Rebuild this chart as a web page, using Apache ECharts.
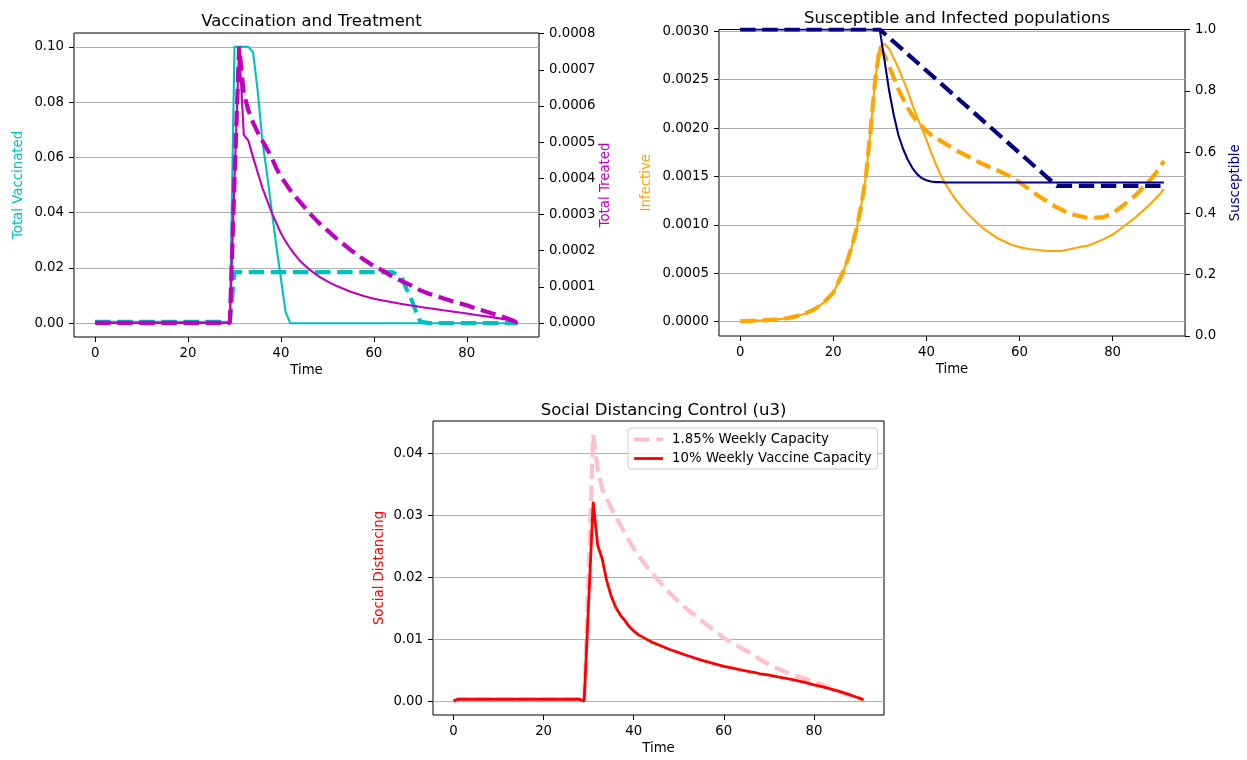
<!DOCTYPE html>
<html>
<head>
<meta charset="utf-8">
<title>Vaccination, treatment and social distancing</title>
<script src="https://cdn.jsdelivr.net/npm/echarts@6/dist/echarts.min.js"></script>
<style>
  html, body { margin: 0; padding: 0; background: #fff; }
  #ec { width: 1247px; height: 760px; }
</style>
</head>
<body>
<div id="ec"></div>
<script>
const days = [
  0, 1, 2, 5, 8, 10, 12, 14, 16, 18,
  20, 21, 22, 23, 24, 25, 26, 27, 28, 29,
  30, 31, 32, 33, 34, 35, 36, 37, 38, 39,
  40, 41, 42, 43, 44, 46, 48, 50, 52, 55,
  58, 60, 62, 64, 66, 67, 68, 69, 70, 72,
  75, 78, 80, 82, 85, 88, 90, 91
];

// top left: vaccination (left axis) and treatment (right axis)
const vacc10 = [
  0.0005, 0.0005, 0.0005, 0.0005, 0.0005, 0.0005, 0.0005, 0.0005, 0.0005, 0.0005,
  0.0005, 0.0005, 0.0005, 0.0005, 0.0005, 0.0005, 0.0005, 0.0005, 0.0005, 0.0005,
  0.1, 0.1, 0.1, 0.1, 0.098, 0.084, 0.066, 0.054, 0.041, 0.028,
  0.016, 0.004, 0, 0, 0, 0, 0, 0, 0, 0,
  0, 0, 0, 0, 0, 0, 0, 0, 0, 0,
  0, 0, 0, 0, 0, 0, 0, 0
];
const vacc185 = [
  0.0005, 0.0005, 0.0005, 0.0005, 0.0005, 0.0005, 0.0005, 0.0005, 0.0005, 0.0005,
  0.0005, 0.0005, 0.0005, 0.0005, 0.0005, 0.0005, 0.0005, 0.0005, 0.0005, 0.0005,
  0.0185, 0.0185, 0.0185, 0.0185, 0.0185, 0.0185, 0.0185, 0.0185, 0.0185, 0.0185,
  0.0185, 0.0185, 0.0185, 0.0185, 0.0185, 0.0185, 0.0185, 0.0185, 0.0185, 0.0185,
  0.0185, 0.0185, 0.0185, 0.0185, 0.0165, 0.0125, 0.009, 0.0045, 0.0005, 0,
  0, 0, 0, 0, 0, 0, 0, 0
];
const treat10 = [
  0, 0, 0, 0, 0, 0, 0, 0, 0, 0,
  0, 0, 0, 0, 0, 0, 0, 0, 0, 0,
  0.000397, 0.000764, 0.00052, 0.000504, 0.000458, 0.000416, 0.000374, 0.00034, 0.000306, 0.000277,
  0.000248, 0.000226, 0.000206, 0.000189, 0.000173, 0.000149, 0.00013, 0.000115, 0.000102, 0.0000863,
  0.0000741, 0.0000672, 0.0000619, 0.0000573, 0.0000527, 0.0000504, 0.0000481, 0.0000466, 0.0000443, 0.0000405,
  0.0000351, 0.0000298, 0.000026, 0.0000222, 0.0000168, 0.0000107, 0.0000046, 0
];
const treat185 = [
  0, 0, 0, 0, 0, 0, 0, 0, 0, 0,
  0, 0, 0, 0, 0, 0, 0, 0, 0, 0,
  0.000397, 0.000764, 0.000634, 0.000588, 0.000554, 0.000527, 0.000504, 0.000481, 0.000458, 0.000428,
  0.000405, 0.000386, 0.000367, 0.000351, 0.000336, 0.000306, 0.000279, 0.000256, 0.000233, 0.000202,
  0.000174, 0.000157, 0.000144, 0.000128, 0.000116, 0.00011, 0.000104, 0.0000978, 0.0000902, 0.0000802,
  0.000068, 0.0000558, 0.0000489, 0.0000397, 0.0000283, 0.000016, 0.0000061, 0
];

// top right: infective (left axis) and susceptible (right axis)
const inf10 = [
  0.000005, 0.000006, 0.000008, 0.000014, 0.000024, 0.000035, 0.000055, 0.000085, 0.00013, 0.0002,
  0.0003, 0.0004, 0.0005, 0.00063, 0.00078, 0.00096, 0.0012, 0.0015, 0.00198, 0.0025,
  0.00284, 0.00287, 0.00282, 0.00272, 0.00262, 0.0025, 0.00238, 0.00224, 0.00211, 0.002,
  0.00188, 0.00175, 0.00163, 0.00152, 0.00143, 0.00128, 0.00116, 0.00106, 0.00097, 0.00087,
  0.0008, 0.00077, 0.00075, 0.00074, 0.00073, 0.00073, 0.00073, 0.00073, 0.00074, 0.00076,
  0.00079, 0.00085, 0.0009, 0.00097, 0.00108, 0.00121, 0.00131, 0.00137
];
const inf185 = [
  0.000005, 0.000006, 0.000008, 0.000014, 0.000024, 0.000035, 0.000055, 0.000085, 0.00013, 0.0002,
  0.0003, 0.0004, 0.0005, 0.00063, 0.00078, 0.00096, 0.0012, 0.0015, 0.00198, 0.0025,
  0.00284, 0.00275, 0.00264, 0.00252, 0.0024, 0.0023, 0.00221, 0.00213, 0.00207, 0.00202,
  0.00197, 0.00193, 0.0019, 0.00187, 0.00184, 0.00178, 0.00173, 0.00168, 0.00163, 0.00157,
  0.0015, 0.00144, 0.00137, 0.0013, 0.00124, 0.00121, 0.00118, 0.00116, 0.00113, 0.0011,
  0.00107, 0.00108, 0.00112, 0.00119, 0.00131, 0.00146, 0.00158, 0.00166
];
const sus10 = [
  1, 1, 1, 1, 1, 1, 1, 1, 1, 1,
  1, 1, 1, 1, 1, 1, 1, 1, 1, 1,
  0.998, 0.9, 0.8, 0.72, 0.655, 0.61, 0.575, 0.548, 0.528, 0.515,
  0.508, 0.504, 0.502, 0.502, 0.501, 0.501, 0.501, 0.501, 0.501, 0.501,
  0.501, 0.501, 0.501, 0.501, 0.501, 0.501, 0.501, 0.501, 0.501, 0.501,
  0.501, 0.501, 0.501, 0.501, 0.501, 0.501, 0.501, 0.501
];
// straight drop between day 30 and day 68, nulls are bridged
const sus185 = [
  1, 1, 1, 1, 1, 1, 1, 1, 1, 1,
  1, 1, 1, 1, 1, 1, 1, 1, 1, 1,
  1, null, null, null, null, null, null, null, null, null,
  null, null, null, null, null, null, null, null, null, null,
  null, null, null, null, null, null, 0.49, 0.49, 0.49, 0.49,
  0.49, 0.49, 0.49, 0.49, 0.49, 0.49, 0.49, 0.49
];

// bottom: social distancing control
const sd185 = [
  0.0001, 0.0004, 0.0004, 0.0004, 0.0004, 0.0004, 0.0004, 0.0004, 0.0004, 0.0004,
  0.0004, 0.0004, 0.0004, 0.0004, 0.0004, 0.0004, 0.0004, 0.0004, 0.0004, 0.0001,
  0.021, 0.043, 0.0375, 0.0342, 0.0327, 0.0312, 0.0298, 0.0285, 0.0272, 0.0259,
  0.0247, 0.0236, 0.0226, 0.0217, 0.0208, 0.0191, 0.0175, 0.0161, 0.0148, 0.0131,
  0.0114, 0.0103, 0.0094, 0.0086, 0.0078, 0.0073, 0.0068, 0.0064, 0.006, 0.0053,
  0.0044, 0.0037, 0.0032, 0.0027, 0.0018, 0.0011, 0.0006, 0.0003
];
const sd10 = [
  0.0001, 0.0004, 0.0004, 0.0004, 0.0004, 0.0004, 0.0004, 0.0004, 0.0004, 0.0004,
  0.0004, 0.0004, 0.0004, 0.0004, 0.0004, 0.0004, 0.0004, 0.0004, 0.0004, 0.0001,
  0.016, 0.0322, 0.0252, 0.023, 0.0195, 0.017, 0.0152, 0.014, 0.0131, 0.0121,
  0.0114, 0.0108, 0.0104, 0.01, 0.0096, 0.009, 0.0084, 0.0079, 0.0074, 0.0067,
  0.0061, 0.0057, 0.0054, 0.0051, 0.0048, 0.0047, 0.0045, 0.0044, 0.0043, 0.004,
  0.0036, 0.0031, 0.0027, 0.0024, 0.0018, 0.0011, 0.0006, 0.0003
];

const timeTicks = [0, 20, 40, 60, 80];
const vaccTicks = [0, 0.02, 0.04, 0.06, 0.08, 0.1];
const treatTicks = [0, 0.0001, 0.0002, 0.0003, 0.0004, 0.0005, 0.0006, 0.0007, 0.0008];
const infTicks = [0, 0.0005, 0.001, 0.0015, 0.002, 0.0025, 0.003];
const susTicks = [0, 0.2, 0.4, 0.6, 0.8, 1];
const sdTicks = [0, 0.01, 0.02, 0.03, 0.04];

const FONT = "DejaVu Sans";
const SMALL = 13.3;
const pairs = (ys) => days.map((d, i) => [d, ys[i]]);

function xAxisFor(gridIndex, gap) {
  return {
    type: "value",
    gridIndex: gridIndex,
    min: -4.55,
    max: 95.55,
    name: "Time",
    nameLocation: "middle",
    nameGap: gap,
    nameTextStyle: { fontFamily: FONT, fontSize: SMALL, color: "#000" },
    axisLine: { show: false, onZero: false },
    axisTick: { show: true, length: 5, customValues: timeTicks, lineStyle: { color: "#000" } },
    axisLabel: { customValues: timeTicks, margin: 10, fontFamily: FONT, fontSize: SMALL, color: "#000" },
    splitLine: { show: false },
  };
}

function yAxisFor(gridIndex, pos, min, max, ticks, digits, name, color, gap, grid) {
  return {
    type: "value",
    gridIndex: gridIndex,
    position: pos,
    min: min,
    max: max,
    name: name,
    nameLocation: "middle",
    nameRotate: 90,
    nameGap: gap,
    nameTextStyle: { fontFamily: FONT, fontSize: SMALL, color: color },
    axisLine: { show: false, onZero: false },
    axisTick: { show: true, length: 5, customValues: ticks, lineStyle: { color: "#000" } },
    axisLabel: {
      customValues: ticks,
      margin: 10,
      fontFamily: FONT,
      fontSize: SMALL,
      color: "#000",
      formatter: (v) => v.toFixed(digits),
    },
    splitLine: { show: grid, lineStyle: { color: "#b0b0b0", width: 1.1 } },
  };
}

function line(name, xi, yi, ys, color, dashed, width) {
  return {
    name: name,
    type: "line",
    xAxisIndex: xi,
    yAxisIndex: yi,
    data: pairs(ys),
    symbol: "none",
    connectNulls: true,
    color: color,
    lineStyle: dashed
      ? { color: color, width: 4.2, type: [15.4, 6.7] }
      : { color: color, width: width || 2.1 },
  };
}

const boxStyle = { show: true, borderColor: "#000", borderWidth: 1, backgroundColor: "#fff" };
const titleStyle = { fontFamily: FONT, fontSize: 16.5, fontWeight: "normal", color: "#000" };

const myChart = echarts.init(document.getElementById("ec"));
myChart.setOption({
  animation: false,
  backgroundColor: "#fff",
  title: [
    { text: "Vaccination and Treatment", left: 306.5, top: 8, textAlign: "center", textStyle: titleStyle },
    { text: "Susceptible and Infected populations", left: 952, top: 5, textAlign: "center", textStyle: titleStyle },
    { text: "Social Distancing Control (u3)", left: 658.5, top: 397, textAlign: "center", textStyle: titleStyle },
  ],
  grid: [
    Object.assign({ left: 74, top: 33, width: 465, height: 304 }, boxStyle),
    Object.assign({ left: 719, top: 29.5, width: 466, height: 306.5 }, boxStyle),
    Object.assign({ left: 433, top: 421, width: 451, height: 294 }, boxStyle),
  ],
  legend: {
    data: ["1.85% Weekly Capacity", "10% Weekly Vaccine Capacity"],
    orient: "vertical",
    left: 628,
    top: 428,
    itemWidth: 29,
    itemHeight: 14,
    itemGap: 6,
    padding: [5, 6, 4, 4],
    borderColor: "#cccccc",
    borderWidth: 1,
    borderRadius: 3,
    backgroundColor: "rgba(255,255,255,0.8)",
    itemStyle: { opacity: 0 },
    lineStyle: { width: "inherit" },
    textStyle: { fontFamily: FONT, fontSize: SMALL, color: "#000", padding: [0, 0, 0, 4] },
  },
  xAxis: [xAxisFor(0, 27), xAxisFor(1, 27), xAxisFor(2, 27)],
  yAxis: [
    yAxisFor(0, "left", -0.005, 0.105, vaccTicks, 2, "Total Vaccinated", "#00bfbf", 49, true),
    yAxisFor(0, "right", -0.0000388, 0.000802, treatTicks, 4, "Total Treated", "#bf00bf", 60, false),
    yAxisFor(1, "left", -0.000148, 0.003018, infTicks, 4, "Infective", "#ffa500", 66, true),
    yAxisFor(1, "right", 0, 1, susTicks, 1, "Susceptible", "#00008b", 44, false),
    yAxisFor(2, "left", -0.00214, 0.0452, sdTicks, 2, "Social Distancing", "#ff0000", 47, true),
  ],
  series: [
    line("vacc 10%", 0, 0, vacc10, "#00bfbf", false),
    line("vacc 1.85%", 0, 0, vacc185, "#00bfbf", true),
    line("treat 10%", 0, 1, treat10, "#bf00bf", false),
    line("treat 1.85%", 0, 1, treat185, "#bf00bf", true),
    line("inf 10%", 1, 2, inf10, "#ffa500", false),
    line("inf 1.85%", 1, 2, inf185, "#ffa500", true),
    line("sus 10%", 1, 3, sus10, "#000080", false),
    line("sus 1.85%", 1, 3, sus185, "#000080", true),
    line("1.85% Weekly Capacity", 2, 4, sd185, "#ffc0cb", true),
    line("10% Weekly Vaccine Capacity", 2, 4, sd10, "#ff0000", false, 2.8),
  ],
});
</script>
</body>
</html>
